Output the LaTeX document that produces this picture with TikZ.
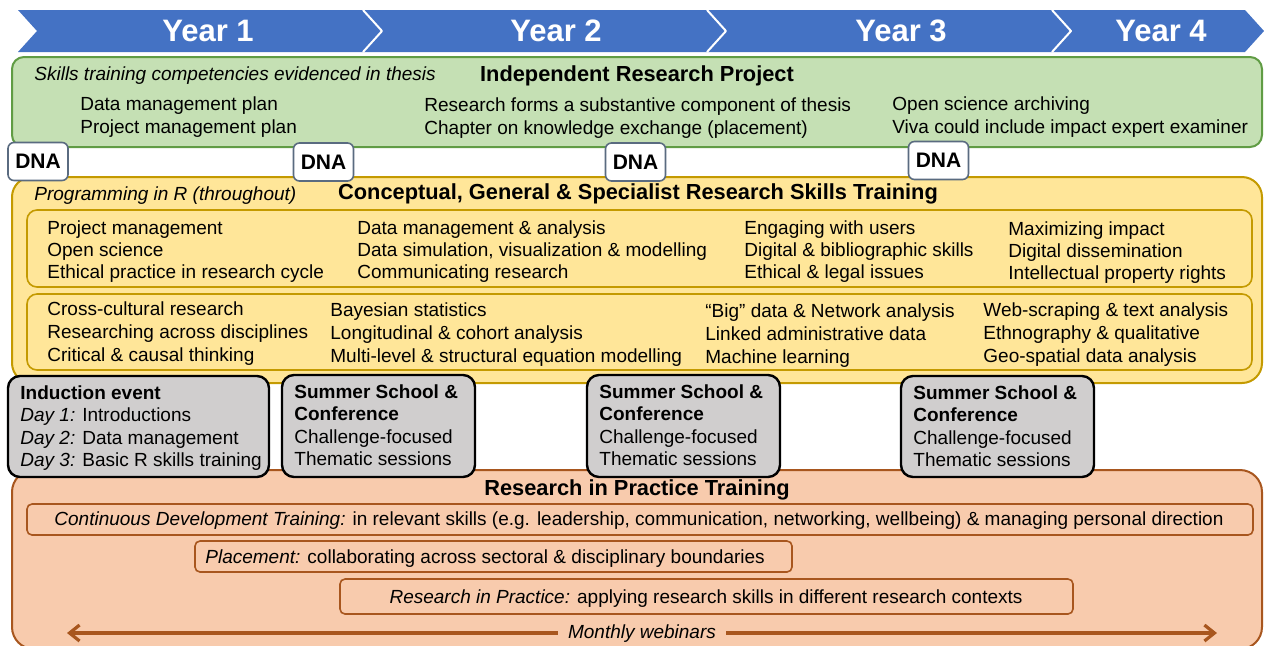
\documentclass[tikz,border=0pt]{standalone}
\usepackage{fontspec}
\setmainfont{Liberation Sans}
\usetikzlibrary{arrows.meta}
\definecolor{yearblue}{HTML}{4472C4}
\definecolor{greenfill}{HTML}{C5E0B4}
\definecolor{greenline}{HTML}{609C44}
\definecolor{goldfill}{HTML}{FFE699}
\definecolor{goldline}{HTML}{C49A00}
\definecolor{greyfill}{HTML}{D0CECE}
\definecolor{peachfill}{HTML}{F8CBAD}
\definecolor{rustline}{HTML}{A8561E}
\definecolor{dnaline}{HTML}{5A6B80}
\tikzset{
  txt/.style={anchor=mid west, inner sep=0pt, font=\fontsize{9.5}{11.5}\selectfont},
  itxt/.style={txt, font=\fontsize{9.5}{11.5}\selectfont\itshape},
  boxtitle/.style={inner sep=0pt, anchor=mid, font=\fontsize{10.9}{13}\selectfont\bfseries},
  yearlabel/.style={text=white, inner sep=0pt, font=\fontsize{15.5}{18}\selectfont\bfseries},
  dnabox/.style={draw=dnaline, line width=0.8pt, fill=white, rounded corners=3pt,
    minimum width=30pt, minimum height=19pt, inner sep=0pt, font=\fontsize{10.5}{12}\selectfont\bfseries},
  eventbox/.style={draw=black, line width=1.2pt, fill=greyfill, rounded corners=6pt},
  rowbox/.style={draw=goldline, line width=0.8pt, rounded corners=5pt},
  practicebox/.style={draw=rustline, line width=0.8pt, rounded corners=2.5pt},
  webarrow/.style={rustline, line width=1.6pt, {Straight Barb[length=5pt,width=8pt]}-{Straight Barb[length=5pt,width=8pt]}},
}
\begin{document}
\begin{tikzpicture}[x=0.5pt, y=-0.5pt, line join=round]
  \useasboundingbox (0,0) rectangle (1264,645);
  \clip (0,0) rectangle (1264,645);
  \fill[white] (0,0) rectangle (1264,645);
  % year banner
  \fill[yearblue] (18,10) -- (1245,10) -- (1264,31) -- (1245,52) -- (18,52) -- (37,31) -- cycle;
  \foreach \x in {363,707,1052}
    \draw[white, line width=1pt] (\x,10) -- (\x+19,31) -- (\x,52);
  \foreach \yx [count=\k] in {208,556,901,1161}
    \node[yearlabel] (year\k) at (\yx,31) {Year \k};
  % independent research project
  \draw[greenline, fill=greenfill, line width=1pt, rounded corners=6pt] (12,57) rectangle (1262,147);
  \node[itxt] (thesis) at (34,75) {Skills training competencies evidenced in thesis};
  \node[boxtitle] (irp) at (637,76) {Independent Research Project};
  \foreach \tx [count=\k] in {Data management plan, Project management plan}
    \node[txt] (irpa\k) at (80,{82+23*\k}) {\tx};
  \foreach \tx [count=\k] in {Research forms a substantive component of thesis, Chapter on knowledge exchange (placement)}
    \node[txt] (irpb\k) at (424,{83+23*\k}) {\tx};
  \foreach \tx [count=\k] in {Open science archiving, Viva could include impact expert examiner}
    \node[txt] (irpc\k) at (892,{82+23*\k}) {\tx};
  % research skills training
  \draw[goldline, fill=goldfill, line width=1pt, rounded corners=10pt] (12,177) rectangle (1262,383);
  \node[itxt] (rprog) at (34,195) {Programming in R (throughout)};
  \node[boxtitle] (skills) at (638,194) {Conceptual, General \& Specialist Research Skills Training};
  \draw[rowbox] (27,210) rectangle (1252,287);
  \draw[rowbox] (27,294) rectangle (1252,370);
  \foreach \tx [count=\k] in {Project management, Open science, Ethical practice in research cycle}
    \node[txt] (sa\k) at (47,{207+22*\k}) {\tx};
  \foreach \tx [count=\k] in {Data management \& analysis, {Data simulation, visualization \& modelling}, Communicating research}
    \node[txt] (sb\k) at (357,{207+22*\k}) {\tx};
  \foreach \tx [count=\k] in {Engaging with users, Digital \& bibliographic skills, Ethical \& legal issues}
    \node[txt] (sc\k) at (744,{207+22*\k}) {\tx};
  \foreach \tx [count=\k] in {Maximizing impact, Digital dissemination, Intellectual property rights}
    \node[txt] (sd\k) at (1008,{208+22*\k}) {\tx};
  \foreach \tx [count=\k] in {Cross-cultural research, Researching across disciplines, Critical \& causal thinking}
    \node[txt] (se\k) at (47,{287+23*\k}) {\tx};
  \foreach \tx [count=\k] in {Bayesian statistics, Longitudinal \& cohort analysis, Multi-level \& structural equation modelling}
    \node[txt] (sf\k) at (330,{288+23*\k}) {\tx};
  \foreach \tx [count=\k] in {“Big” data \& Network analysis, Linked administrative data, Machine learning}
    \node[txt] (sg\k) at (705,{289+23*\k}) {\tx};
  \foreach \tx [count=\k] in {Web-scraping \& text analysis, Ethnography \& qualitative, Geo-spatial data analysis}
    \node[txt] (sh\k) at (983,{288+23*\k}) {\tx};
  % DNA checkpoints
  \foreach \dx/\dy [count=\k] in {38/161.5, 323.5/162, 635.5/162, 938.5/160.5}
    \node[dnabox] (dna\k) at (\dx,\dy) {DNA};
  % research in practice training
  \draw[rustline, fill=peachfill, line width=1pt, rounded corners=11pt] (12,470) rectangle (1262,649);
  \node[boxtitle] (practice) at (637,490) {Research in Practice Training};
  \draw[practicebox] (27,504) rectangle (1253,535);
  \draw[practicebox] (195,541) rectangle (792,572);
  \draw[practicebox] (340,579) rectangle (1073,614);
  \node[txt, anchor=mid] (cdt) at (639,520) {{\itshape Continuous Development Training:} in relevant skills (e.g. leadership, communication, networking, wellbeing) \& managing personal direction};
  \node[txt] (placement) at (205,558) {{\itshape Placement:} collaborating across sectoral \& disciplinary boundaries};
  \node[txt, anchor=mid] (rip) at (706,598) {{\itshape Research in Practice:} applying research skills in different research contexts};
  \coordinate (webl) at (67,633);
  \coordinate (webr) at (1217,633);
  \draw[webarrow] (webl) -- node[itxt, anchor=mid, text=black, fill=peachfill, inner xsep=5pt] (webinars) {Monthly webinars} (webr);
  % events
  \draw[eventbox] (8,376) rectangle (269,477);
  \foreach \tx [count=\k] in {\textbf{Induction event}, {\itshape Day 1:} Introductions, {\itshape Day 2:} Data management, {\itshape Day 3:} Basic R skills training}
    \node[txt] (ind\k) at (20,{372+22.3*\k}) {\tx};
  \foreach \bx/\by [count=\n] in {282/375, 587/375, 901/376} {
    \draw[eventbox] (\bx,\by) rectangle (\bx+193,477);
    \foreach \tx [count=\k] in {\textbf{Summer School \&}, \textbf{Conference}, Challenge-focused, Thematic sessions}
      \node[txt] (school\n-\k) at (\bx+12,{\by-4+22.3*\k}) {\tx};
  }
\end{tikzpicture}
\end{document}
